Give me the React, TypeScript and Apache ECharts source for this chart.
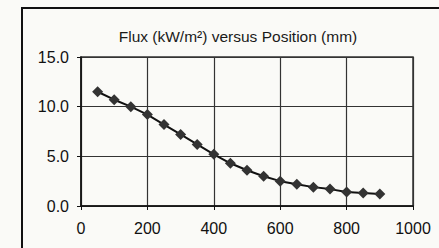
import React, { useEffect, useRef } from "react";
import * as echarts from "echarts";

const positions = [50, 100, 150, 200, 250, 300, 350, 400, 450, 500, 550, 600, 650, 700, 750, 800, 850, 900];
const flux = [11.5, 10.7, 10.0, 9.2, 8.2, 7.2, 6.2, 5.2, 4.3, 3.6, 3.0, 2.5, 2.2, 1.9, 1.7, 1.4, 1.3, 1.2];
const titleText = "Flux (kW/m²) versus Position (mm)";

export default function App() {
  const ref = useRef<HTMLDivElement>(null);
  useEffect(() => {
    if (!ref.current) return;
    const chart = echarts.init(ref.current, undefined, { renderer: "svg" });
    const font = "Liberation Sans, Arial, sans-serif";
    chart.setOption({
      animation: false,
      backgroundColor: "#fafaf7",
      title: {
        text: titleText,
        left: 233,
        top: 23,
        textAlign: "center",
        textStyle: { fontFamily: font, fontSize: 15.5, fontWeight: "normal", color: "#1a1a1a" },
      },
      graphic: [
        {
          type: "rect",
          shape: { x: 22, y: 8, width: 440, height: 260 },
          style: { fill: "none", stroke: "#111", lineWidth: 2 },
        },
      ],
      grid: {
        left: 81,
        right: 26,
        top: 57,
        bottom: 42,
        show: true,
        borderColor: "#333",
        borderWidth: 1.5,
        backgroundColor: "transparent",
      },
      xAxis: {
        type: "value",
        min: 0,
        max: 1000,
        interval: 200,
        axisLine: { show: true, lineStyle: { color: "#111", width: 1.5 } },
        axisTick: { show: true, length: 4, lineStyle: { color: "#111" } },
        splitLine: { show: true, lineStyle: { color: "#333", width: 1.2 } },
        axisLabel: {
          fontFamily: font,
          fontSize: 16,
          color: "#111",
          margin: 14,
          formatter: (v: number) => String(v),
        },
      },
      yAxis: {
        type: "value",
        min: 0,
        max: 15,
        interval: 5,
        axisLine: { show: true, lineStyle: { color: "#111", width: 1.5 } },
        axisTick: { show: true, length: 4, lineStyle: { color: "#111" } },
        splitLine: { show: true, lineStyle: { color: "#333", width: 1.2 } },
        axisLabel: {
          fontFamily: font,
          fontSize: 16,
          color: "#111",
          margin: 12,
          formatter: (v: number) => v.toFixed(1),
        },
      },
      series: [
        {
          type: "line",
          data: positions.map((p, i) => [p, flux[i]]),
          symbol: "diamond",
          symbolSize: 11,
          itemStyle: { color: "#333" },
          lineStyle: { color: "#111", width: 2 },
        },
      ],
    });
    return () => chart.dispose();
  }, []);
  return (
    <div
      ref={ref}
      style={{ position: "fixed", left: 0, top: 0, width: 439, height: 248 }}
    />
  );
}
